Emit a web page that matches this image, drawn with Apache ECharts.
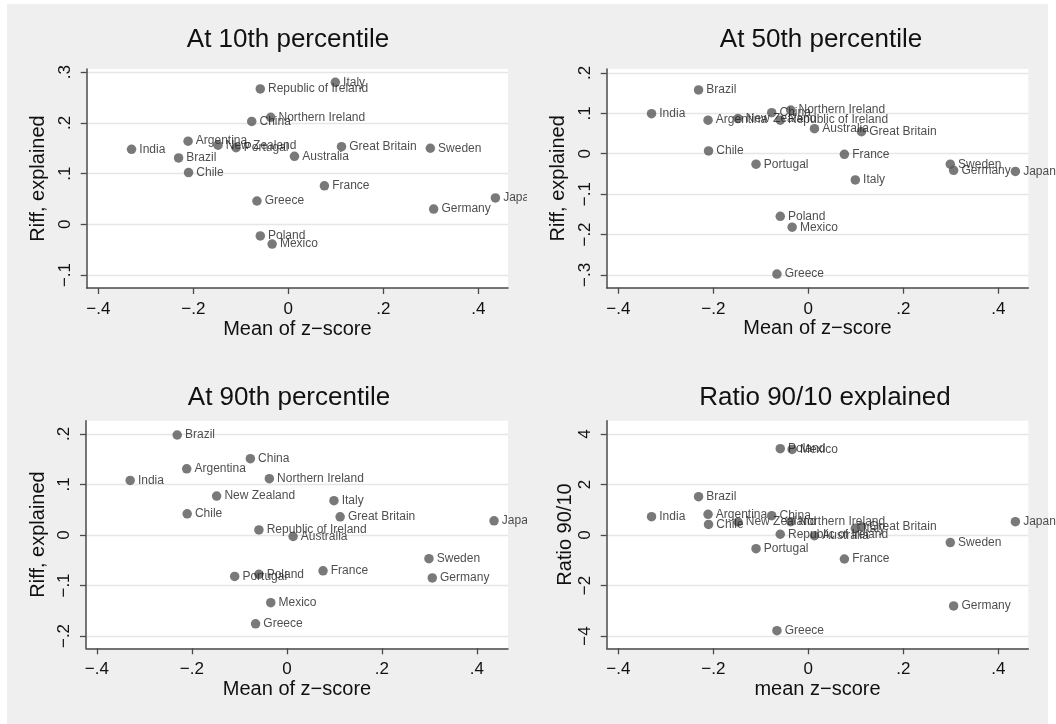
<!DOCTYPE html>
<html>
<head>
<meta charset="utf-8">
<script src="https://cdn.jsdelivr.net/npm/echarts@6/dist/echarts.min.js"></script>
<style>
html,body{margin:0;padding:0;background:#fff;}
#c{width:1056px;height:724px;}
</style>
</head>
<body>
<div id="c"></div>
<script>
// ---- data ----
const countries = ['India','Argentina','New Zealand','Portugal','Brazil','Chile','Republic of Ireland','China','Northern Ireland','Greece','Poland','Mexico','Australia','Italy','Great Britain','Sweden','France','Japan','Germany'];
const meanZ     = [-0.330,-0.211,-0.148,-0.110,-0.231,-0.210,-0.059,-0.077,-0.037,-0.066,-0.059,-0.034,0.013,0.099,0.112,0.299,0.076,0.436,0.306];
const riffP10   = [0.148,0.164,0.156,0.151,0.131,0.102,0.267,0.203,0.211,0.046,-0.023,-0.039,0.134,0.280,0.153,0.150,0.076,0.052,0.030];
const riffP50   = [0.099,0.083,0.087,-0.026,0.158,0.007,0.083,0.1015,0.108,-0.298,-0.155,-0.182,0.062,-0.065,0.0545,-0.026,-0.0015,-0.044,-0.041];
const riffP90   = [0.108,0.131,0.077,-0.082,0.198,0.042,0.010,0.151,0.1115,-0.176,-0.078,-0.134,-0.003,0.068,0.036,-0.047,-0.071,0.028,-0.085];
const ratio9010 = [0.725,0.82,0.515,-0.54,1.52,0.42,0.03,0.765,0.527,-3.79,3.42,3.39,-0.03,0.265,0.33,-0.30,-0.95,0.527,-2.81];

const panelTitles = ['At 10th percentile','At 50th percentile','At 90th percentile','Ratio 90/10 explained'];
const xTitles = ['Mean of z\u2212score','Mean of z\u2212score','Mean of z\u2212score','mean z\u2212score'];
const yTitles = ['Riff, explained','Riff, explained','Riff, explained','Ratio 90/10'];
const xTicks = [-0.4,-0.2,0,0.2,0.4];
const yTicksP10 = [-0.1,0,0.1,0.2,0.3];
const yTicksP50 = [-0.3,-0.2,-0.1,0,0.1,0.2];
const yTicksP90 = [-0.2,-0.1,0,0.1,0.2];
const yTicksRatio = [-4,-2,0,2,4];

// ---- layout ----
const FONT = "'Liberation Sans', Arial, Helvetica, sans-serif";
const grids = [
  {left:86.7, top:69,    width:421.3, height:219},
  {left:606.7,top:69,    width:421.6, height:218.7},
  {left:86,   top:420.7, width:422,   height:227.6},
  {left:606.7,top:420.7, width:421.6, height:227.6}
];
const xRanges = [[-0.4244,0.4625],[-0.4244,0.4632],[-0.4230,0.4654],[-0.4244,0.4632]];
const yRanges = [[-0.1256,0.3063],[-0.3317,0.2097],[-0.2244,0.2263],[-4.487,4.527]];
const yTickSets = [yTicksP10,yTicksP50,yTicksP90,yTicksRatio];
const ySeries = [riffP10,riffP50,riffP90,ratio9010];
const yNameGaps = [38,38,38,27];
const titlePos = [[288,40],[821,40],[289,398],[825,398]];

function fmt(v){
  if (Math.abs(v) < 1e-9) return '0';
  let s = String(Math.round(v*1000)/1000);
  s = s.replace(/^(-?)0\./,'$1.');
  return s.replace('-','\u2212');
}

const axisColor = '#4a4a4a';
const option = {
  backgroundColor:'#ffffff',
  animation:false,
  graphic: [
    {type:'rect', z:-10, shape:{x:7,y:4,width:1041,height:720}, style:{fill:'#efefef'}},
    {type:'rect', z:5, shape:{x:527,y:60,width:18,height:610}, style:{fill:'#efefef'}}
  ].concat(panelTitles.map((t,i)=>({
    type:'text', z:6, x:titlePos[i][0], y:titlePos[i][1],
    style:{text:t, fill:'#111', font:'26px '+FONT, align:'center', verticalAlign:'middle'}
  }))),
  grid: grids.map(g=>Object.assign({show:true, backgroundColor:'#ffffff', borderWidth:0, containLabel:false}, g)),
  xAxis: grids.map((g,i)=>({
    type:'value', gridIndex:i, min:xRanges[i][0], max:xRanges[i][1],
    name:xTitles[i], nameLocation:'middle', nameGap:31,
    nameTextStyle:{fontSize:20, color:'#111', fontFamily:FONT},
    axisLine:{show:true, onZero:false, lineStyle:{color:axisColor, width:1.5}},
    axisTick:{show:true, inside:false, length:6, lineStyle:{color:axisColor, width:1.3}, customValues:xTicks},
    axisLabel:{fontSize:17, color:'#111', fontFamily:FONT, margin:13, customValues:xTicks, formatter:fmt},
    splitLine:{show:false}
  })),
  yAxis: grids.map((g,i)=>({
    type:'value', gridIndex:i, min:yRanges[i][0], max:yRanges[i][1],
    name:yTitles[i], nameLocation:'middle', nameGap:yNameGaps[i], nameRotate:90,
    nameTextStyle:{fontSize:20, color:'#111', fontFamily:FONT},
    axisLine:{show:true, onZero:false, lineStyle:{color:axisColor, width:1.5}},
    axisTick:{show:true, inside:false, length:6, lineStyle:{color:axisColor, width:1.3}, customValues:yTickSets[i]},
    axisLabel:{fontSize:17, color:'#111', fontFamily:FONT, margin:13, rotate:90, customValues:yTickSets[i], formatter:fmt},
    splitLine:{show:true, lineStyle:{color:'#e6e6e6', width:1.3}}
  })),
  series: ySeries.map((ys,i)=>({
    type:'scatter', xAxisIndex:i, yAxisIndex:i, symbol:'circle', symbolSize:9.5, clip:false,
    itemStyle:{color:'#575757'},
    label:{show:true, position:'right', distance:3, fontSize:12, color:'#222', fontFamily:FONT,
      formatter:p=>p.data[2]},
    labelLayout:{hideOverlap:false},
    data: countries.map((c,k)=>[meanZ[k], ys[k], c])
  }))
};
const chart = echarts.init(document.getElementById('c'), null, {renderer:'canvas'});
chart.setOption(option);
</script>
</body>
</html>
